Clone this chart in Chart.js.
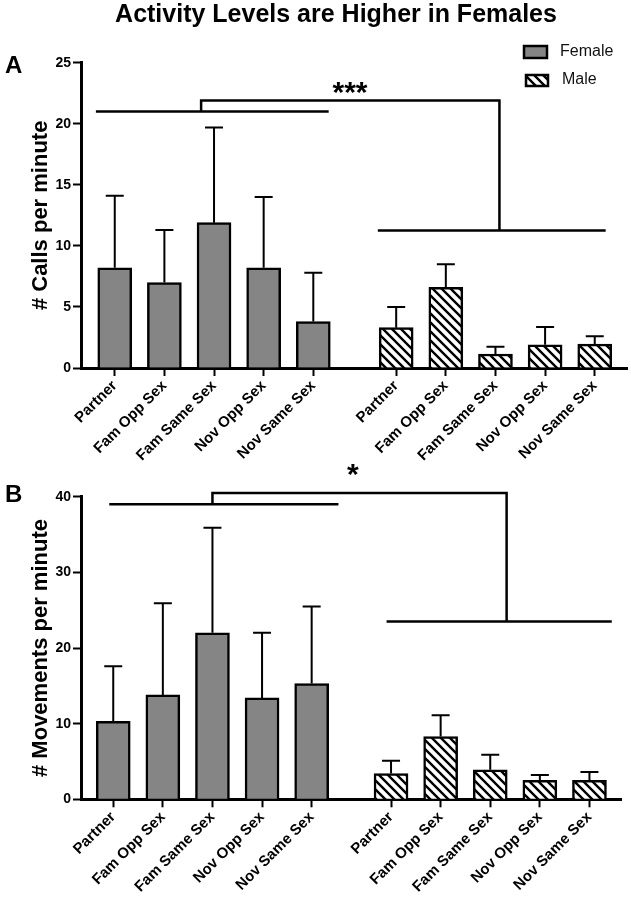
<!DOCTYPE html>
<html>
<head>
<meta charset="utf-8">
<script src="https://cdn.jsdelivr.net/npm/chart.js@4.4.1/dist/chart.umd.min.js"></script>
<style>
  body { margin: 0; background: #fff; width: 631px; height: 900px; position: relative; overflow: hidden; }
  canvas { position: absolute; left: 0; }
</style>
</head>
<body>
<canvas id="callsChart" width="631" height="480" style="top:0"></canvas>
<canvas id="movesChart" width="631" height="450" style="top:450px"></canvas>
<script>
// conditions, same for both sexes
const conditions = ['Partner', 'Fam Opp Sex', 'Fam Same Sex', 'Nov Opp Sex', 'Nov Same Sex'];

// A: calls per minute (mean and SD)
const femaleCalls = [8.2, 7.0, 11.9, 8.2, 3.8];
const femaleCallsErr = [5.9, 4.3, 7.8, 5.8, 4.0];
const maleCalls = [3.3, 6.6, 1.15, 1.9, 1.95];
const maleCallsErr = [1.7, 1.9, 0.6, 1.45, 0.65];

// B: movements per minute
const femaleMoves = [10.3, 13.8, 22.0, 13.4, 15.3];
const femaleMovesErr = [7.3, 12.1, 13.9, 8.6, 10.2];
const maleMoves = [3.4, 8.3, 3.9, 2.5, 2.5];
const maleMovesErr = [1.7, 2.8, 2.0, 0.7, 1.1];

const FONT = "'Liberation Sans', Arial, sans-serif";
const GREY = '#858585';
Chart.defaults.font.family = FONT;
Chart.defaults.color = '#000';

function hatchPattern() {
    var c = document.createElement('canvas');
    c.width = 9; c.height = 9;
    var g = c.getContext('2d');
    g.fillStyle = '#fff';
    g.fillRect(0, 0, 9, 9);
    g.strokeStyle = '#000';
    g.lineWidth = 2.4;
    g.beginPath();
    g.moveTo(-1, -1); g.lineTo(10, 10);
    g.moveTo(-5, 4); g.lineTo(5, 14);
    g.moveTo(4, -5); g.lineTo(14, 5);
    g.stroke();
    return g.createPattern(c, 'repeat');
}
const hatch = hatchPattern();

// upper error bars with caps
const errorBars = {
    id: 'errorBars',
    afterDatasetsDraw(chart) {
        var ctx = chart.ctx, y = chart.scales.y;
        ctx.save();
        ctx.strokeStyle = '#000';
        ctx.lineWidth = 2;
        chart.data.datasets.forEach(function (ds, di) {
            chart.getDatasetMeta(di).data.forEach(function (bar, i) {
                var top = y.getPixelForValue(ds.data[i].y + ds.errors[i]);
                ctx.beginPath();
                ctx.moveTo(bar.x, bar.y);
                ctx.lineTo(bar.x, top);
                ctx.moveTo(bar.x - 9, top);
                ctx.lineTo(bar.x + 9, top);
                ctx.stroke();
            });
        });
        ctx.restore();
    }
};

// draw a polyline given in data units
function path(chart, pts) {
    var ctx = chart.ctx, x = chart.scales.x, y = chart.scales.y;
    ctx.beginPath();
    pts.forEach(function (p, i) {
        var px = x.getPixelForValue(p[0]), py = y.getPixelForValue(p[1]);
        if (i === 0) ctx.moveTo(px, py); else ctx.lineTo(px, py);
    });
    ctx.stroke();
}

function annotations(letter, letterY, bracket, stars, extra) {
    return {
        id: 'annotations',
        afterDraw(chart) {
            var ctx = chart.ctx, x = chart.scales.x, y = chart.scales.y;
            ctx.save();
            ctx.strokeStyle = '#000';
            ctx.lineWidth = 2.5;
            path(chart, [[bracket.fLeft, bracket.fLevel], [bracket.fRight, bracket.fLevel]]);
            path(chart, [[bracket.topLeft, bracket.fLevel], [bracket.topLeft, bracket.top],
                         [bracket.topRight, bracket.top], [bracket.topRight, bracket.mLevel]]);
            path(chart, [[bracket.mLeft, bracket.mLevel], [bracket.mRight, bracket.mLevel]]);

            ctx.fillStyle = '#000';
            ctx.textAlign = 'center';
            ctx.textBaseline = 'alphabetic';
            ctx.font = 'bold 30px ' + FONT;
            ctx.fillText(stars.text, x.getPixelForValue(stars.x), y.getPixelForValue(stars.y) + 16);

            ctx.textAlign = 'left';
            ctx.font = 'bold 24px ' + FONT;
            ctx.fillText(letter, 5, letterY);
            if (extra) extra(ctx);
            ctx.restore();
        }
    };
}

function drawHeader(ctx) {
    ctx.textAlign = 'center';
    ctx.font = 'bold 25px ' + FONT;
    ctx.fillText('Activity Levels are Higher in Females', 336, 22);

    ctx.lineWidth = 2.5;
    ctx.fillStyle = GREY;
    ctx.fillRect(524, 46, 23, 12);
    ctx.strokeRect(524, 46, 23, 12);
    ctx.fillStyle = hatch;
    ctx.fillRect(526, 75, 22, 11);
    ctx.strokeRect(526, 75, 22, 11);

    ctx.fillStyle = '#111';
    ctx.textAlign = 'left';
    ctx.textBaseline = 'middle';
    ctx.font = '16px ' + FONT;
    ctx.fillText('Female', 560, 52);
    ctx.fillText('Male', 562, 80);
}

function buildChart(id, o) {
    var tickPos = conditions.map(function (c, i) { return i; })
        .concat(conditions.map(function (c, i) { return i + o.maleOffset; }));
    var tickLabels = conditions.concat(conditions);

    return new Chart(document.getElementById(id), {
        type: 'bar',
        data: {
            datasets: [{
                label: 'Female',
                data: o.female.map(function (v, i) { return { x: i, y: v }; }),
                errors: o.femaleErr,
                backgroundColor: GREY,
                borderColor: '#000',
                borderWidth: 2.5,
                barThickness: 34,
                grouped: false
            }, {
                label: 'Male',
                data: o.male.map(function (v, i) { return { x: i + o.maleOffset, y: v }; }),
                errors: o.maleErr,
                backgroundColor: hatch,
                borderColor: '#000',
                borderWidth: 2.5,
                barThickness: 34,
                grouped: false
            }]
        },
        options: {
            responsive: false,
            animation: false,
            devicePixelRatio: 1,
            layout: { padding: { left: 0, top: o.padTop, right: o.padRight, bottom: 0 } },
            plugins: { legend: { display: false }, tooltip: { enabled: false } },
            scales: {
                x: {
                    type: 'linear',
                    offset: false,
                    min: o.xMin,
                    max: o.xMax,
                    afterBuildTicks: function (scale) {
                        scale.ticks = tickPos.map(function (v) { return { value: v }; });
                    },
                    afterFit: function (scale) { scale.height = o.xAxisHeight; },
                    ticks: {
                        autoSkip: false,
                        minRotation: 45,
                        maxRotation: 45,
                        padding: 1,
                        font: { size: 15, weight: 'bold' },
                        callback: function (v, i) { return tickLabels[i]; }
                    },
                    grid: { drawOnChartArea: false, offset: false, tickLength: 8, tickColor: '#000', tickWidth: 2 },
                    border: { color: '#000', width: 3 }
                },
                y: {
                    min: 0,
                    max: o.yMax,
                    afterFit: function (scale) { scale.width = 81; },
                    ticks: { stepSize: o.yStep, padding: 2, font: { size: 14, weight: 'bold' } },
                    grid: { drawOnChartArea: false, tickLength: 8, tickColor: '#000', tickWidth: 2 },
                    border: { color: '#000', width: 3 },
                    title: {
                        display: true,
                        text: o.yTitle,
                        font: { size: 22, weight: 'bold' },
                        padding: { top: 28, bottom: 0 }
                    }
                }
            }
        },
        plugins: [errorBars, o.annot]
    });
}

buildChart('callsChart', {
    female: femaleCalls, femaleErr: femaleCallsErr,
    male: maleCalls, maleErr: maleCallsErr,
    maleOffset: 5.67, xMin: -0.68, xMax: 10.32,
    yMax: 25, yStep: 5, yTitle: '# Calls per minute',
    padTop: 62.7, padRight: 4, xAxisHeight: 112,
    annot: annotations('A', 73,
        { fLevel: 21.0, fLeft: -0.38, fRight: 4.31, top: 21.9, topLeft: 1.74, topRight: 7.75,
          mLevel: 11.25, mLeft: 5.3, mRight: 9.89 },
        { text: '***', x: 4.74, y: 23.1 }, drawHeader)
});

buildChart('movesChart', {
    female: femaleMoves, femaleErr: femaleMovesErr,
    male: maleMoves, maleErr: maleMovesErr,
    maleOffset: 5.6, xMin: -0.65, xMax: 10.25,
    yMax: 40, yStep: 10, yTitle: '# Movements per minute',
    padTop: 46.7, padRight: 9.3, xAxisHeight: 100.7,
    annot: annotations('B', 52,
        { fLevel: 39.0, fLeft: -0.08, fRight: 4.54, top: 40.5, topLeft: 2.0, topRight: 7.93,
          mLevel: 23.5, mLeft: 5.51, mRight: 10.05 },
        { text: '*', x: 4.83, y: 43.8 }, null)
});
</script>
</body>
</html>
